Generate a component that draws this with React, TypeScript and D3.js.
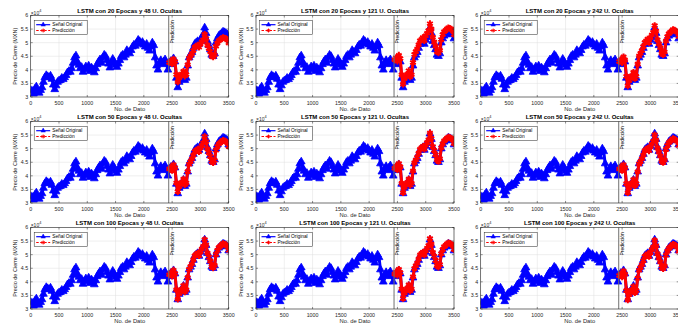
import React from 'react';
import * as d3 from 'd3';

// Original closing price (x1e4), one sample every 25 data points from 0 to 3500
const STEP = 25;
const ORIGINAL = [
  3.25, 3.22, 3.12, 3.30, 3.38, 3.20, 3.15, 3.25, 3.35, 3.55, 3.72, 3.80, 3.76, 3.72, 3.78, 3.66, 3.45, 3.28, 3.42, 3.55,
  3.60, 3.62, 3.70, 3.65, 3.72, 3.80, 3.90, 3.95, 3.92, 4.05, 4.25, 4.45, 4.52, 4.30, 4.18, 4.05, 4.10, 3.92, 4.02, 4.12,
  4.05, 4.15, 3.95, 4.08, 4.02, 3.90, 4.05, 4.20, 4.30, 4.38, 4.25, 4.45, 4.55, 4.50, 4.35, 4.22, 4.08, 4.25, 4.40, 4.30,
  4.18, 4.10, 4.22, 4.35, 4.50, 4.55, 4.45, 4.55, 4.72, 4.65, 4.60, 4.72, 4.85, 4.92, 4.88, 5.00, 5.10, 5.05, 4.95, 5.02,
  4.92, 4.85, 4.95, 4.80, 4.70, 4.85, 5.00, 4.90, 4.45, 4.15, 4.00, 4.25, 4.35, 4.20, 4.30, 4.38, 4.25, 4.00, 4.25, 4.32,
  4.20, 4.42, 4.30, 3.70, 3.35, 3.55, 3.65, 3.72, 3.85, 3.62, 3.70, 4.15, 4.45, 4.55, 4.65, 4.80, 4.95, 5.00, 5.05, 4.95,
  5.10, 5.20, 5.30, 5.55, 5.35, 5.05, 4.90, 4.75, 4.55, 4.50, 4.60, 5.00, 5.15, 5.25, 5.30, 5.35, 5.40, 5.38, 5.35, 5.30,
  5.15,
];

// Predictions (x1e4), one sample every 25 data points from 2450 to 3500
const PRED_START = 2450;
const SPLIT = 2440;
const PRED_20_48 = [4.27, 4.33, 4.23, 4.40, 4.31, 3.83, 3.55, 3.71, 3.79, 3.85, 3.95, 3.77, 3.83, 4.19, 4.43, 4.51, 4.59, 4.71, 4.83, 4.87, 4.91, 4.83, 4.95, 5.03, 5.11, 5.31, 5.15, 4.91, 4.79, 4.67, 4.51, 4.47, 4.55, 4.87, 4.99, 5.07, 5.11, 5.15, 5.19, 5.17, 5.15, 5.11, 4.99];
const PRED_20_121 = [4.37, 4.44, 4.32, 4.54, 4.42, 3.82, 3.47, 3.67, 3.77, 3.84, 3.97, 3.74, 3.82, 4.27, 4.57, 4.67, 4.77, 4.92, 5.07, 5.12, 5.19, 5.07, 5.25, 5.35, 5.45, 5.70, 5.50, 5.20, 5.02, 4.87, 4.67, 4.62, 4.72, 5.12, 5.30, 5.40, 5.45, 5.50, 5.55, 5.53, 5.50, 5.45, 5.30];
const PRED_20_242 = [4.31, 4.38, 4.26, 4.48, 4.36, 3.76, 3.41, 3.61, 3.71, 3.78, 3.91, 3.68, 3.76, 4.21, 4.51, 4.61, 4.71, 4.86, 5.01, 5.06, 5.13, 5.01, 5.18, 5.28, 5.38, 5.63, 5.43, 5.11, 4.96, 4.81, 4.61, 4.56, 4.66, 5.06, 5.23, 5.33, 5.38, 5.43, 5.48, 5.46, 5.43, 5.38, 5.23];
const PRED_50_48 = [4.25, 4.31, 4.20, 4.41, 4.30, 3.74, 3.42, 3.61, 3.70, 3.76, 3.88, 3.67, 3.74, 4.16, 4.43, 4.53, 4.62, 4.76, 4.89, 4.94, 4.99, 4.89, 5.03, 5.12, 5.22, 5.45, 5.26, 4.99, 4.85, 4.71, 4.53, 4.48, 4.57, 4.94, 5.08, 5.17, 5.22, 5.26, 5.31, 5.29, 5.26, 5.22, 5.08];
const PRED_50_121 = [4.28, 4.35, 4.23, 4.45, 4.33, 3.73, 3.38, 3.58, 3.68, 3.75, 3.88, 3.65, 3.73, 4.18, 4.48, 4.58, 4.68, 4.83, 4.98, 5.03, 5.08, 4.98, 5.13, 5.23, 5.33, 5.58, 5.38, 5.08, 4.93, 4.78, 4.58, 4.53, 4.63, 5.03, 5.18, 5.28, 5.33, 5.38, 5.43, 5.41, 5.38, 5.33, 5.18];
const PRED_50_242 = [4.25, 4.32, 4.20, 4.41, 4.30, 3.72, 3.38, 3.57, 3.67, 3.74, 3.86, 3.64, 3.72, 4.15, 4.44, 4.53, 4.63, 4.77, 4.92, 4.97, 5.02, 4.92, 5.07, 5.17, 5.27, 5.51, 5.32, 5.02, 4.88, 4.73, 4.54, 4.49, 4.58, 4.97, 5.12, 5.22, 5.27, 5.32, 5.37, 5.35, 5.32, 5.27, 5.12];
const PRED_100_48 = [4.26, 4.33, 4.21, 4.43, 4.31, 3.71, 3.36, 3.56, 3.66, 3.73, 3.86, 3.63, 3.71, 4.16, 4.46, 4.56, 4.66, 4.81, 4.96, 5.01, 5.06, 4.96, 5.11, 5.21, 5.31, 5.56, 5.36, 5.06, 4.91, 4.76, 4.56, 4.51, 4.61, 5.01, 5.16, 5.26, 5.31, 5.36, 5.41, 5.39, 5.36, 5.31, 5.16];
const PRED_100_121 = [4.29, 4.36, 4.24, 4.46, 4.34, 3.74, 3.39, 3.59, 3.69, 3.76, 3.89, 3.66, 3.74, 4.19, 4.49, 4.59, 4.69, 4.84, 4.99, 5.04, 5.09, 4.99, 5.14, 5.24, 5.34, 5.59, 5.39, 5.09, 4.94, 4.79, 4.59, 4.54, 4.64, 5.04, 5.19, 5.29, 5.34, 5.39, 5.44, 5.42, 5.39, 5.34, 5.19];
const PRED_100_242 = [4.23, 4.30, 4.18, 4.40, 4.28, 3.68, 3.33, 3.53, 3.63, 3.70, 3.83, 3.60, 3.68, 4.13, 4.43, 4.53, 4.63, 4.78, 4.93, 4.98, 5.03, 4.93, 5.08, 5.18, 5.28, 5.53, 5.33, 5.03, 4.88, 4.73, 4.53, 4.48, 4.58, 4.98, 5.13, 5.23, 5.28, 5.33, 5.38, 5.36, 5.33, 5.28, 5.13];

const EPOCHS = [20, 50, 100];
const UNITS = [48, 121, 242];
const PREDICTIONS = [
  [PRED_20_48, PRED_20_121, PRED_20_242],
  [PRED_50_48, PRED_50_121, PRED_50_242],
  [PRED_100_48, PRED_100_121, PRED_100_242],
];

const X_TICKS = [0, 500, 1000, 1500, 2000, 2500, 3000, 3500];
const Y_TICKS = [3, 3.5, 4, 4.5, 5, 5.5, 6];
const Y_TICK_LABELS = ['3', '3.5', '4', '4.5', '5', '5.5', '6'];

const LEGEND_ORIGINAL = 'Señal Original';
const LEGEND_PRED = 'Predicción';
const SPLIT_LABEL = 'Predicción';
const X_LABEL = 'No. de Dato';
const Y_LABEL = 'Precio de Cierre (MXN)';

// Layout
const COL_X = [30.7, 256, 480.7];
const ROW_Y = [15.5, 121.5, 227.5];
const W = 198;
const H = 81.5;
const FONT = '"Liberation Sans", Arial, Helvetica, sans-serif';
const AX = '#262626';
const GRID = '#dfdfdf';

const triPath = d3.symbol(d3.symbolTriangle, 26)() as string;
const astPath = d3.symbol((d3 as any).symbolAsterisk || d3.symbolCross, 30)() as string;
const triSmall = d3.symbol(d3.symbolTriangle, 9)() as string;
const astSmall = d3.symbol((d3 as any).symbolAsterisk || d3.symbolCross, 10)() as string;

function Panel({ r, c }: { r: number; c: number }) {
  const x0 = COL_X[c];
  const y0 = ROW_Y[r];
  const x = d3.scaleLinear().domain([0, 3500]).range([x0, x0 + W]);
  const y = d3.scaleLinear().domain([3, 6]).range([y0 + H, y0]);
  const line = d3.line<[number, number]>();
  const origPts: [number, number][] = ORIGINAL.map((v, i) => [x(i * STEP), y(v)]);
  const pred = PREDICTIONS[r][c];
  const predPts: [number, number][] = pred.map((v, i) => [x(PRED_START + i * STEP), y(v)]);
  const clipId = `clip-${r}-${c}`;
  const title = `LSTM con ${EPOCHS[r]} Epocas y ${UNITS[c]} U. Ocultas`;
  const lx = x0 + 3.5;
  const ly = y0 + 5;
  const xs = x(SPLIT);
  return (
    <g>
      <defs>
        <clipPath id={clipId}>
          <rect x={x0} y={y0} width={W} height={H} />
        </clipPath>
      </defs>
      <rect x={x0} y={y0} width={W} height={H} fill="#fff" />
      {X_TICKS.map((t) => (
        <line key={'gx' + t} x1={x(t)} x2={x(t)} y1={y0} y2={y0 + H} stroke={GRID} strokeWidth={0.5} />
      ))}
      {Y_TICKS.map((t) => (
        <line key={'gy' + t} x1={x0} x2={x0 + W} y1={y(t)} y2={y(t)} stroke={GRID} strokeWidth={0.5} />
      ))}
      <g clipPath={`url(#${clipId})`}>
        <path d={line(origPts) as string} fill="none" stroke="#0000ff" strokeWidth={3} strokeLinejoin="round" />
        {origPts.map((p, i) => (
          <path key={'o' + i} d={triPath} transform={`translate(${p[0]},${p[1]})`} fill="#0000ff" stroke="#0000ff" strokeWidth={0.8} />
        ))}
        <path d={line(predPts) as string} fill="none" stroke="#ff0000" strokeWidth={3} strokeLinejoin="round" />
        {predPts.map((p, i) => (
          <path key={'p' + i} d={astPath} transform={`translate(${p[0]},${p[1]})`} fill="none" stroke="#ff0000" strokeWidth={2} />
        ))}
      </g>
      <line x1={xs} x2={xs} y1={y0} y2={y0 + H} stroke="#707070" strokeWidth={1} />
      <text
        transform={`translate(${xs + 5.2},${y0 + 28}) rotate(-90)`}
        fontSize={5}
        fontFamily={FONT}
        fill="#000"
      >
        {SPLIT_LABEL}
      </text>
      {/* box */}
      <rect x={x0} y={y0} width={W} height={H} fill="none" stroke={AX} strokeWidth={0.6} />
      {X_TICKS.map((t) => (
        <g key={'tx' + t}>
          <line x1={x(t)} x2={x(t)} y1={y0 + H} y2={y0 + H - 2} stroke={AX} strokeWidth={0.5} />
          <line x1={x(t)} x2={x(t)} y1={y0} y2={y0 + 2} stroke={AX} strokeWidth={0.5} />
          <text x={x(t)} y={y0 + H + 7.5} fontSize={5.3} fontFamily={FONT} fill={AX} textAnchor="middle">
            {t}
          </text>
        </g>
      ))}
      {Y_TICKS.map((t, i) => (
        <g key={'ty' + t}>
          <line x1={x0} x2={x0 + 2} y1={y(t)} y2={y(t)} stroke={AX} strokeWidth={0.5} />
          <line x1={x0 + W} x2={x0 + W - 2} y1={y(t)} y2={y(t)} stroke={AX} strokeWidth={0.5} />
          <text x={x0 - 2.5} y={y(t) + 1.9} fontSize={5.3} fontFamily={FONT} fill={AX} textAnchor="end">
            {Y_TICK_LABELS[i]}
          </text>
        </g>
      ))}
      <text x={x0} y={y0 - 1} fontSize={5} fontFamily={FONT} fill={AX}>
        ×10<tspan dy={-2.2} fontSize={3.8}>4</tspan>
      </text>
      <text x={x0 + W / 2} y={y0 - 2.5} fontSize={6} fontWeight="bold" fontFamily={FONT} fill="#000" textAnchor="middle">
        {title}
      </text>
      <text x={x0 + W / 2} y={y0 + H + 13.8} fontSize={5.8} fontFamily={FONT} fill={AX} textAnchor="middle">
        {X_LABEL}
      </text>
      <text
        transform={`translate(${x0 - 13.5},${y0 + H / 2}) rotate(-90)`}
        fontSize={5.5}
        fontFamily={FONT}
        fill={AX}
        textAnchor="middle"
      >
        {Y_LABEL}
      </text>
      {/* legend */}
      <rect x={lx} y={ly} width={53} height={14} fill="#fff" stroke={AX} strokeWidth={0.5} />
      <line x1={lx + 2} x2={lx + 16} y1={ly + 4.2} y2={ly + 4.2} stroke="#0000ff" strokeWidth={1.2} />
      <path d={triSmall} transform={`translate(${lx + 9},${ly + 4.2})`} fill="#0000ff" stroke="#0000ff" strokeWidth={0.5} />
      <text x={lx + 18} y={ly + 5.9} fontSize={4.8} fontFamily={FONT} fill="#000">
        {LEGEND_ORIGINAL}
      </text>
      <line x1={lx + 2} x2={lx + 16} y1={ly + 10} y2={ly + 10} stroke="#ff0000" strokeWidth={1.2} strokeDasharray="2.5,1.5" />
      <path d={astSmall} transform={`translate(${lx + 9},${ly + 10})`} fill="none" stroke="#ff0000" strokeWidth={1} />
      <text x={lx + 18} y={ly + 11.7} fontSize={4.8} fontFamily={FONT} fill="#000">
        {LEGEND_PRED}
      </text>
    </g>
  );
}

export default function App() {
  return (
    <div style={{ position: 'fixed', left: 0, top: 0, width: 678, height: 326, background: '#fff' }}>
      <svg width={678} height={326} style={{ display: 'block' }}>
        <rect width={678} height={326} fill="#fff" />
        {[0, 1, 2].map((r) => [0, 1, 2].map((c) => <Panel key={`${r}-${c}`} r={r} c={c} />))}
      </svg>
    </div>
  );
}
